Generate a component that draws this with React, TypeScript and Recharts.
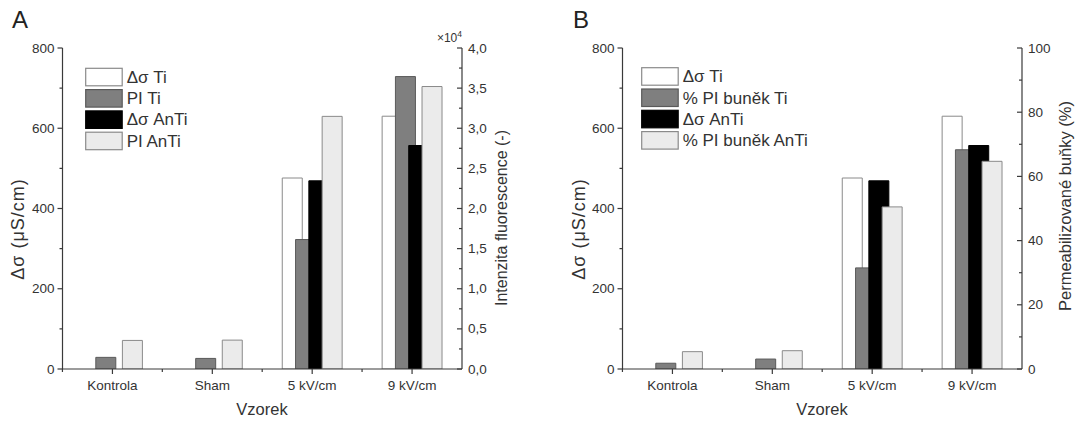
import React from 'react';
import { BarChart, Bar, XAxis, YAxis } from 'recharts';

// ---------- data ----------
const categories = ['Kontrola', 'Sham', '5 kV/cm', '9 kV/cm'];

// Panel A (left axis: Δσ in µS/cm, right axis: fluorescence intensity)
const dsTiA = [0, 0, 476, 630];
const piTiA = [1450, 1320, 16130, 36440];
const dsAnTiA = [0, 0, 469, 557];
const piAnTiA = [3560, 3600, 31480, 35200];

// Panel B (left axis: Δσ in µS/cm, right axis: % permeabilized cells)
const dsTiB = [0, 0, 476, 630];
const pctTiB = [1.8, 3.1, 31.5, 68.3];
const dsAnTiB = [0, 0, 469, 557];
const pctAnTiB = [5.4, 5.7, 50.5, 64.7];

const leftTicks = [0, 100, 200, 300, 400, 500, 600, 700, 800];
const leftLabelStep = 200;
const rightTicksA = [0, 2500, 5000, 7500, 10000, 12500, 15000, 17500, 20000, 22500, 25000, 27500, 30000, 32500, 35000, 37500, 40000];
const rightLabelStepA = 5000;
const rightTicksB = [0, 10, 20, 30, 40, 50, 60, 70, 80, 90, 100];
const rightLabelStepB = 20;

const legendA = ['Δσ Ti', 'PI Ti', 'Δσ AnTi', 'PI AnTi'];
const legendB = ['Δσ Ti', '% PI buněk Ti', 'Δσ AnTi', '% PI buněk AnTi'];

// ---------- style ----------
const FONT = '"Liberation Sans", Arial, Helvetica, sans-serif';
const AXIS = '#3a3a3a';
const TEXT = '#333333';
const seriesStyles = [
  { fill: '#ffffff', stroke: '#8a8a8a' },
  { fill: '#7f7f7f', stroke: '#5a5a5a' },
  { fill: '#000000', stroke: '#000000' },
  { fill: '#ebebeb', stroke: '#8a8a8a' },
];
const PLOT_W = 400;
const LEFT_W = 62.5;

function makeLeftTick(step: number) {
  return (props: any) => {
    const { x, y, payload } = props;
    const major = payload.value % step === 0;
    return (
      <g>
        <line x1={x - (major ? 5 : 3)} x2={x} y1={y} y2={y} stroke={AXIS} strokeWidth={1.2} />
        {major && (
          <text x={x - 8} y={y} textAnchor="end" dominantBaseline="central" fontSize={13.5} fill={TEXT} fontFamily={FONT}>
            {payload.value}
          </text>
        )}
      </g>
    );
  };
}

function makeRightTick(step: number, fmt: (v: number) => string) {
  return (props: any) => {
    const { x, y, payload } = props;
    const major = payload.value % step === 0;
    return (
      <g>
        <line x1={x} x2={x - (major ? 5 : 3)} y1={y} y2={y} stroke={AXIS} strokeWidth={1.2} />
        {major && (
          <text x={x + 6} y={y} textAnchor="start" dominantBaseline="central" fontSize={13.5} fill={TEXT} fontFamily={FONT}>
            {fmt(payload.value)}
          </text>
        )}
      </g>
    );
  };
}

const BottomTick = (props: any) => {
  const { x, y, payload } = props;
  const half = PLOT_W / categories.length / 2;
  return (
    <g>
      <line x1={x} x2={x} y1={y} y2={y + 5} stroke={AXIS} strokeWidth={1.2} />
      <line x1={x - half} x2={x - half} y1={y} y2={y + 3} stroke={AXIS} strokeWidth={1.2} />
      <text x={x} y={y + 16} textAnchor="middle" dominantBaseline="central" fontSize={13.5} fill={TEXT} fontFamily={FONT}>
        {payload.value}
      </text>
    </g>
  );
};

const TopTick = (props: any) => {
  const { x, y } = props;
  const half = PLOT_W / categories.length / 2;
  return (
    <g>
      <line x1={x - half} x2={x - half} y1={y} y2={y + 3} stroke={AXIS} strokeWidth={1.2} />
    </g>
  );
};

type PanelProps = {
  series: number[][];
  width: number;
  rightWidth: number;
  rightDomain: [number, number];
  rightTicks: number[];
  rightStep: number;
  rightFmt: (v: number) => string;
};

function Panel({ series, width, rightWidth, rightDomain, rightTicks, rightStep, rightFmt }: PanelProps) {
  const data = categories.map((c, i) => ({
    cat: c,
    s0: series[0][i],
    s1: series[1][i],
    s2: series[2][i],
    s3: series[3][i],
  }));
  const axisIds = ['left', 'right', 'left', 'right'];
  return (
    <BarChart
      width={width}
      height={421}
      data={data}
      margin={{ top: 48, right: 0, bottom: 0, left: 0 }}
      barSize={20}
      barGap={-6.7}
    >
      <XAxis
        dataKey="cat"
        xAxisId={0}
        height={52}
        interval={0}
        tickSize={0}
        tickMargin={0}
        tickLine={false}
        axisLine={{ stroke: AXIS, strokeWidth: 1.2 }}
        tick={BottomTick}
      />
      <XAxis
        dataKey="cat"
        xAxisId="top"
        orientation="top"
        height={0}
        interval={0}
        tickSize={0}
        tickMargin={0}
        tickLine={false}
        axisLine={{ stroke: AXIS, strokeWidth: 1.2 }}
        tick={TopTick}
      />
      <YAxis
        yAxisId="left"
        orientation="left"
        width={LEFT_W}
        domain={[0, 800]}
        ticks={leftTicks}
        interval={0}
        allowDataOverflow
        tickSize={0}
        tickMargin={0}
        tickLine={false}
        axisLine={{ stroke: AXIS, strokeWidth: 1.2 }}
        tick={makeLeftTick(leftLabelStep)}
      />
      <YAxis
        yAxisId="right"
        orientation="right"
        width={rightWidth}
        domain={rightDomain}
        ticks={rightTicks}
        interval={0}
        allowDataOverflow
        tickSize={0}
        tickMargin={0}
        tickLine={false}
        axisLine={{ stroke: AXIS, strokeWidth: 1.2 }}
        tick={makeRightTick(rightStep, rightFmt)}
      />
      {[0, 1, 2, 3].map((k) => (
        <Bar
          key={k}
          dataKey={'s' + k}
          xAxisId={0}
          yAxisId={axisIds[k]}
          fill={seriesStyles[k].fill}
          stroke={seriesStyles[k].stroke}
          strokeWidth={1}
          isAnimationActive={false}
        />
      ))}
    </BarChart>
  );
}

function Legend({ x, y, labels }: { x: number; y: number; labels: string[] }) {
  return (
    <g>
      {labels.map((l, i) => (
        <g key={l}>
          <rect x={x} y={y + i * 21.3} width={36.5} height={17.5} fill={seriesStyles[i].fill} stroke={seriesStyles[i].stroke} strokeWidth={1.2} />
          <text x={x + 41} y={y + i * 21.3 + 9} dominantBaseline="central" fontSize={17} fill={TEXT} fontFamily={FONT}>
            {l}
          </text>
        </g>
      ))}
    </g>
  );
}

function VText({ x, y, children, size = 16, spacing = 0 }: { x: number; y: number; children: React.ReactNode; size?: number; spacing?: number }) {
  return (
    <text
      x={x}
      y={y}
      transform={`rotate(-90 ${x} ${y})`}
      textAnchor="middle"
      dominantBaseline="central"
      fontSize={size}
      letterSpacing={spacing}
      fill={TEXT}
      fontFamily={FONT}
    >
      {children}
    </text>
  );
}

export default function App() {
  const fmtA = (v: number) => (v / 10000).toFixed(1).replace('.', ',');
  const fmtB = (v: number) => String(v);
  return (
    <div style={{ position: 'absolute', left: 0, top: 0, width: 1078, height: 421, overflow: 'hidden', background: '#fff', fontFamily: FONT }}>
      <div style={{ position: 'absolute', left: 0, top: 0 }}>
        <Panel
          series={[dsTiA, piTiA, dsAnTiA, piAnTiA]}
          width={540}
          rightWidth={78}
          rightDomain={[0, 40000]}
          rightTicks={rightTicksA}
          rightStep={rightLabelStepA}
          rightFmt={fmtA}
        />
      </div>
      <div style={{ position: 'absolute', left: 560, top: 0 }}>
        <Panel
          series={[dsTiB, pctTiB, dsAnTiB, pctAnTiB]}
          width={518}
          rightWidth={56}
          rightDomain={[0, 100]}
          rightTicks={rightTicksB}
          rightStep={rightLabelStepB}
          rightFmt={fmtB}
        />
      </div>
      <svg width={1078} height={421} style={{ position: 'absolute', left: 0, top: 0, pointerEvents: 'none' }}>
        <text x={12} y={28} fontSize={24} fill="#222" fontFamily={FONT}>A</text>
        <text x={573} y={28} fontSize={24} fill="#222" fontFamily={FONT}>B</text>
        <text x={462} y={42} textAnchor="end" fontSize={12} fill={TEXT} fontFamily={FONT}>
          ×10<tspan dy={-5} fontSize={8.5}>4</tspan>
        </text>
        <VText x={18} y={229} size={18} spacing={1}>Δσ (μS/cm)</VText>
        <VText x={501} y={218}>Intenzita fluorescence (-)</VText>
        <VText x={579} y={229} size={18} spacing={1}>Δσ (μS/cm)</VText>
        <VText x={1065} y={206} size={16.5}>Permeabilizované buňky (%)</VText>
        <text x={262} y={415} textAnchor="middle" fontSize={16.5} fill={TEXT} fontFamily={FONT}>Vzorek</text>
        <text x={822} y={415} textAnchor="middle" fontSize={16.5} fill={TEXT} fontFamily={FONT}>Vzorek</text>
        <Legend x={85.7} y={68.3} labels={legendA} />
        <Legend x={641.7} y={67.7} labels={legendB} />
      </svg>
    </div>
  );
}
